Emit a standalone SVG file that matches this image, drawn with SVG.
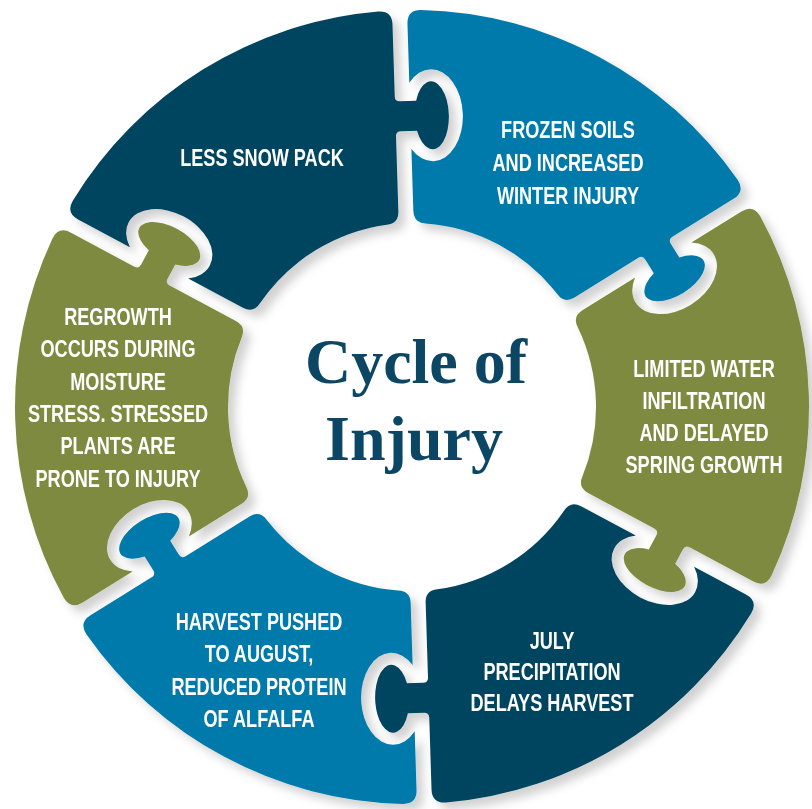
<svg xmlns="http://www.w3.org/2000/svg" xmlns:xlink="http://www.w3.org/1999/xlink" width="812" height="809" viewBox="0 0 812 809">
  <style>
    .label { font-family: "Liberation Sans", Arial, sans-serif; font-weight: bold; font-size: 24px; fill: #ffffff; text-anchor: middle; }
    .title { font-family: "Liberation Serif", "DejaVu Serif", serif; font-weight: bold; font-size: 64px; fill: #0b4664; text-anchor: middle; }
    .navy { fill: #03445f; }
    .blue { fill: #017aab; }
    .green { fill: #7e8a3f; }
  </style>
  <defs>
    <!-- One puzzle segment of the ring (60 degrees), centred on "up"; knob on the clockwise side, socket on the other -->
    <path id="piece" d="M -179.61 -354.04 A 397 397 0 0 1 179.61 -354.04 Q 191.97 -347.50 184.97 -335.38 L 149.00 -273.08 Q 146.51 -268.75 150.84 -266.25 L 164.90 -258.13 A 17 34 30 1 1 149.90 -232.15 L 135.84 -240.27 Q 131.51 -242.77 129.00 -238.44 L 91.43 -173.36 Q 85.43 -162.97 74.60 -168.20 A 184 184 0 0 0 -74.60 -168.20 Q -85.43 -162.97 -91.43 -173.36 L -122.46 -227.10 A 31 46 -30 1 0 -155.56 -284.43 L -184.97 -335.38 Q -191.97 -347.50 -179.61 -354.04 Z"/>
    <filter id="shade" x="-10%" y="-10%" width="125%" height="125%">
      <feDropShadow dx="7" dy="7" stdDeviation="5" flood-color="#000000" flood-opacity="0.18"/>
    </filter>
  </defs>

  <g id="ring" filter="url(#shade)">
    <g id="node-less-snow-pack">
      <use xlink:href="#piece" class="navy" transform="translate(412 407) rotate(-31.8)"/>
      <g class="label" transform="translate(262 0) scale(0.755 1)">
        <text x="0" y="166">LESS SNOW PACK</text>
      </g>
    </g>
    <g id="node-frozen-soils">
      <use xlink:href="#piece" class="blue" transform="translate(412 407) rotate(28.2)"/>
      <g class="label" transform="translate(568 0) scale(0.755 1)">
        <text x="0" y="138.5">FROZEN SOILS</text>
        <text x="0" y="171.5">AND INCREASED</text>
        <text x="0" y="204.5">WINTER INJURY</text>
      </g>
    </g>
    <g id="node-limited-water">
      <use xlink:href="#piece" class="green" transform="translate(412 407) rotate(88.2)"/>
      <g class="label" transform="translate(704 0) scale(0.755 1)">
        <text x="0" y="377">LIMITED WATER</text>
        <text x="0" y="409">INFILTRATION</text>
        <text x="0" y="441">AND DELAYED</text>
        <text x="0" y="473">SPRING GROWTH</text>
      </g>
    </g>
    <g id="node-july-precipitation">
      <use xlink:href="#piece" class="navy" transform="translate(412 407) rotate(148.2)"/>
      <g class="label" transform="translate(552 0) scale(0.755 1)">
        <text x="0" y="649">JULY</text>
        <text x="0" y="680">PRECIPITATION</text>
        <text x="0" y="711">DELAYS HARVEST</text>
      </g>
    </g>
    <g id="node-harvest-pushed">
      <use xlink:href="#piece" class="blue" transform="translate(412 407) rotate(208.2)"/>
      <g class="label" transform="translate(259 0) scale(0.755 1)">
        <text x="0" y="630">HARVEST PUSHED</text>
        <text x="0" y="662.5">TO AUGUST,</text>
        <text x="0" y="695">REDUCED PROTEIN</text>
        <text x="0" y="727.5">OF ALFALFA</text>
      </g>
    </g>
    <g id="node-regrowth">
      <use xlink:href="#piece" class="green" transform="translate(412 407) rotate(268.2)"/>
      <g class="label" transform="translate(118 0) scale(0.755 1)">
        <text x="0" y="325">REGROWTH</text>
        <text x="0" y="357.5">OCCURS DURING</text>
        <text x="0" y="390">MOISTURE</text>
        <text x="0" y="422">STRESS. STRESSED</text>
        <text x="0" y="454.5">PLANTS ARE</text>
        <text x="0" y="487">PRONE TO INJURY</text>
      </g>
    </g>
  </g>

  <g id="connectors"/>

  <g id="node-title">
    <text class="title" x="416" y="383">Cycle of</text>
    <text class="title" x="414" y="460">Injury</text>
  </g>
</svg>
